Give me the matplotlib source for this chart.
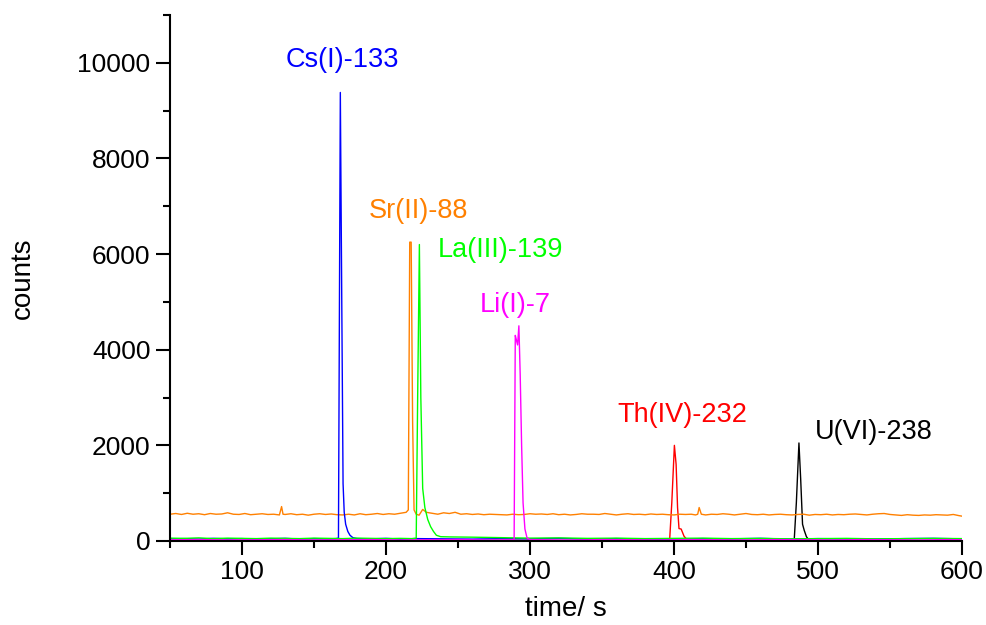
import matplotlib.pyplot as plt
import numpy as np

plt.rcParams['font.family'] = ['Liberation Sans', 'DejaVu Sans']

# Sr(II)-88 trace (orange, sits on a ~550 count background)
sr_t = [50, 54, 58, 62, 66, 70, 74, 78, 82, 86, 90, 94, 98, 102, 106, 110, 114, 118, 122,
        126, 127.5, 128.5, 130, 134, 138, 142, 146, 150, 154, 158, 162, 166, 170, 174, 178,
        182, 186, 190, 194, 198, 202, 206, 210, 214, 215.5, 216.5, 217.5, 218.5, 219.5,
        221, 223, 225.5, 228, 232, 236, 240, 244, 248, 252, 256, 260, 264, 268, 272, 276,
        280, 284, 288, 292, 296, 300, 304, 308, 312, 316, 320, 324, 328, 332, 336, 340,
        344, 348, 352, 356, 360, 364, 368, 372, 376, 380, 384, 388, 392, 396, 400, 404,
        408, 412, 415, 416.5, 417.5, 419, 422, 426, 430, 434, 438, 442, 446, 450, 454,
        458, 462, 466, 470, 474, 478, 482, 486, 490, 494, 498, 502, 506, 510, 514, 518,
        522, 526, 530, 534, 538, 542, 546, 550, 554, 558, 562, 566, 570, 574, 578, 582,
        586, 590, 594, 598, 600]
sr_c = [560, 575, 555, 580, 560, 570, 550, 575, 560, 565, 590, 560, 555, 575, 550, 560, 570, 555, 560,
        545, 720, 560, 555, 570, 550, 560, 540, 560, 570, 555, 565, 550, 545, 560, 545,
        570, 550, 560, 575, 555, 570, 560, 580, 600, 650, 6250, 6250, 2500, 650,
        560, 540, 660, 600, 580, 560, 590, 575, 600, 560, 570, 555, 565, 550, 560, 555,
        550, 545, 560, 550, 555, 570, 560, 565, 555, 570, 550, 560, 545, 555, 570, 560,
        560, 555, 575, 560, 545, 560, 570, 555, 560, 550, 565, 555, 560, 550, 545, 560,
        555, 560, 545, 560, 700, 560, 545, 560, 555, 570, 560, 545, 560, 575, 555,
        550, 560, 545, 555, 560, 550, 545, 555, 560, 540, 555, 550, 560, 545, 555, 550,
        560, 565, 555, 545, 560, 570, 575, 555, 545, 535, 550, 540, 535, 545, 540, 550,
        545, 540, 555, 530, 520]

# Cs(I)-133 trace (blue)
cs_t = [50, 60, 70, 80, 90, 100, 110, 120, 130, 140, 150, 160, 165, 167, 168.3, 169.3,
        170.2, 171, 172, 173.5, 175, 177, 180, 190, 200, 210, 220, 240, 260, 280, 300,
        320, 340, 360, 380, 400, 420, 440, 460, 480, 500, 520, 540, 560, 580, 600]
cs_c = [45, 50, 40, 55, 45, 50, 40, 45, 55, 40, 50, 45, 50, 60, 9380, 5000,
        1200, 600, 350, 200, 120, 70, 50, 45, 55, 40, 50, 45, 40, 50, 45,
        55, 40, 50, 45, 40, 50, 45, 55, 40, 50, 45, 40, 50, 55, 45]

# La(III)-139 trace (green)
la_t = [50, 60, 70, 80, 90, 100, 110, 120, 130, 140, 150, 160, 170, 180, 190, 200, 210,
        218, 221, 222, 223.2, 224.2, 225.5, 227, 229, 231, 233, 235, 238, 245, 260, 280,
        300, 320, 340, 360, 380, 400, 420, 440, 460, 480, 500, 520, 540, 560, 580, 600]
la_c = [60, 55, 65, 50, 60, 55, 50, 60, 55, 50, 60, 55, 50, 60, 55, 50, 55,
        50, 60, 3000, 6200, 3000, 1100, 700, 450, 300, 200, 120, 90, 85, 80, 70,
        60, 65, 55, 60, 50, 55, 60, 50, 55, 45, 50, 55, 45, 50, 55, 50]

# Li(I)-7 trace (magenta)
li_t = [50, 70, 90, 110, 130, 150, 170, 190, 210, 230, 250, 270, 285, 289, 289.8, 290.6,
        291.4, 292.3, 293.2, 294.2, 295.2, 296.5, 298, 300, 310, 330, 350, 370, 390, 410,
        430, 450, 470, 490, 510, 530, 550, 570, 590, 600]
li_c = [25, 30, 20, 25, 30, 20, 25, 30, 20, 25, 30, 20, 25, 30, 4300, 4200,
        4100, 4500, 3500, 2000, 800, 250, 60, 30, 25, 20, 30, 25, 20, 30,
        25, 20, 30, 25, 20, 30, 25, 20, 30, 25]

# Th(IV)-232 trace (red)
th_t = [50, 80, 110, 140, 170, 200, 230, 260, 290, 320, 350, 380, 395, 397, 398.5, 400.3,
        401.5, 402.5, 403.5, 405, 407, 409, 412, 430, 460, 490, 520, 550, 580, 600]
th_c = [10, 15, 10, 12, 15, 10, 12, 10, 15, 10, 12, 15, 10, 20, 800, 2000,
        1600, 700, 260, 250, 100, 30, 15, 10, 12, 15, 10, 12, 10, 12]

# U(VI)-238 trace (black)
u_t = [50, 100, 150, 200, 250, 300, 350, 400, 450, 480, 483.5, 485, 486.8, 488, 489.3,
       490.5, 492, 494, 500, 550, 600]
u_c = [0, 2, 0, 2, 0, 2, 0, 2, 0, 2, 10, 800, 2050, 1300, 350, 220, 90, 10, 2, 0, 2]

traces = [
    (u_t, u_c, '#000000'),
    (th_t, th_c, '#ff0000'),
    (sr_t, sr_c, '#ff8000'),
    (cs_t, cs_c, '#0000ff'),
    (la_t, la_c, '#00ff00'),
    (li_t, li_c, '#ff00ff'),
]

labels = ['Cs(I)-133', 'Sr(II)-88', 'La(III)-139', 'Li(I)-7', 'Th(IV)-232', 'U(VI)-238']
label_x = [169.7, 222.6, 279.6, 290.0, 406.0, 539.0]
label_y = [10060, 6900, 6080, 4930, 2630, 2280]
label_colors = ['#0000ff', '#ff8000', '#00ff00', '#ff00ff', '#ff0000', '#000000']

fig = plt.figure(figsize=(9.86, 6.25), dpi=100)
ax = fig.add_axes([0.1724, 0.1344, 0.8032, 0.8416])

for t, c, col in traces:
    ax.plot(t, c, color=col, lw=1.0)

# peak labels
for txt, x, y, col in zip(labels, label_x, label_y, label_colors):
    ax.text(x, y, txt, color=col, fontsize=19.5, ha='center', va='center')

ax.set_xlim(50, 600)
ax.set_ylim(0, 11000)
ax.set_xticks([100, 200, 300, 400, 500, 600])
ax.set_xticks(np.arange(50, 601, 100), minor=True)
ax.set_yticks([0, 2000, 4000, 6000, 8000, 10000])
ax.set_yticks([1000, 3000, 5000, 7000, 9000, 11000], minor=True)

for s in ['top', 'right']:
    ax.spines[s].set_visible(False)
for s in ['left', 'bottom']:
    ax.spines[s].set_linewidth(1.5)
ax.tick_params(which='major', direction='out', length=10, width=1.5, labelsize=19, pad=4)
ax.tick_params(which='minor', direction='out', length=5, width=1.5)

ax.set_xlabel('time/ s', fontsize=20, labelpad=8)
ax.set_ylabel('counts', fontsize=20, labelpad=30)

plt.savefig('out.png', dpi=100)
